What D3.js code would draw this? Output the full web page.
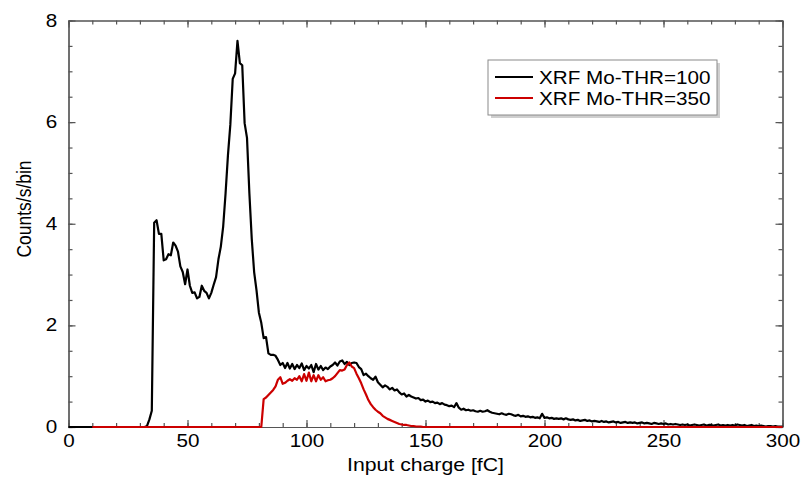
<!DOCTYPE html>
<html>
<head>
<meta charset="utf-8">
<script src="https://cdn.jsdelivr.net/npm/d3@7"></script>
<style>
body { margin: 0; background: #fff; }
text { font-family: "Liberation Sans", Arial, Helvetica, sans-serif; }
</style>
</head>
<body>
<div id="chart-area"></div>
<script>
// counts per 1 fC bin, bin index = input charge
let seriesNames = ["XRF Mo-THR=100", "XRF Mo-THR=350"];
let seriesColors = ["#000000", "#cc0000"];

let thr100 = [
    0,0,0,0,0,0,0,0,0,0,
    0,0,0,0,0,0,0,0,0,0,
    0,0,0,0,0,0,0,0,0,0,
    0,0,0,0.02,0.15,0.32,4.02,4.07,3.80,3.80,
    3.28,3.30,3.40,3.38,3.63,3.57,3.45,3.16,3.05,2.81,
    3.10,2.78,2.64,2.65,2.53,2.56,2.78,2.68,2.64,2.53,
    2.64,2.80,2.95,3.30,3.55,3.95,4.60,5.35,5.95,6.85,
    6.96,7.60,7.16,7.12,5.98,5.69,4.60,3.70,3.05,2.69,
    2.25,2.05,1.75,1.77,1.45,1.42,1.42,1.40,1.32,1.22,
    1.26,1.16,1.26,1.15,1.24,1.14,1.22,1.16,1.25,1.12,
    1.20,1.15,1.22,1.08,1.24,1.13,1.20,1.12,1.17,1.14,
    1.19,1.22,1.27,1.21,1.29,1.31,1.24,1.28,1.22,1.26,
    1.27,1.26,1.18,1.14,1.02,1.05,1.00,0.96,0.93,0.99,
    0.88,0.83,0.78,0.82,0.79,0.74,0.77,0.72,0.74,0.68,
    0.64,0.66,0.60,0.63,0.60,0.58,0.56,0.57,0.53,0.54,
    0.50,0.52,0.49,0.50,0.47,0.48,0.45,0.47,0.44,0.43,
    0.41,0.42,0.39,0.47,0.38,0.34,0.36,0.33,0.34,0.32,
    0.33,0.31,0.30,0.32,0.30,0.31,0.33,0.30,0.28,0.27,
    0.26,0.25,0.27,0.25,0.24,0.26,0.25,0.23,0.22,0.24,
    0.21,0.22,0.20,0.21,0.19,0.20,0.18,0.19,0.17,0.26,
    0.18,0.19,0.17,0.18,0.16,0.17,0.16,0.17,0.15,0.17,
    0.15,0.14,0.15,0.13,0.14,0.12,0.13,0.14,0.12,0.13,
    0.11,0.12,0.11,0.10,0.12,0.10,0.11,0.09,0.10,0.11,
    0.09,0.10,0.08,0.09,0.10,0.08,0.09,0.08,0.09,0.07,
    0.08,0.09,0.07,0.08,0.07,0.06,0.08,0.07,0.06,0.07,
    0.06,0.07,0.05,0.06,0.05,0.06,0.05,0.04,0.05,0.04,
    0.05,0.03,0.04,0.05,0.04,0.03,0.04,0.05,0.03,0.04,
    0.04,0.03,0.04,0.05,0.03,0.04,0.03,0.04,0.03,0.04,
    0.03,0.05,0.04,0.03,0.04,0.02,0.03,0.04,0.02,0.03,
    0.02,0.03,0.02,0.01,0.02,0.02,0.01,0.02,0.01,0.01,
    0.01
];

let thr350 = [
    null,null,null,null,null,null,null,null,null,null,
    0,0,0,0,0,0,0,0,0,0,
    0,0,0,0,0,0,0,0,0,0,
    0,0,0,0,0,0,0,0,0,0,
    0,0,0,0,0,0,0,0,0,0,
    0,0,0,0,0,0,0,0,0,0,
    0,0,0,0,0,0,0,0,0,0,
    0,0,0,0,0,0,0,0,0,0,
    0,0,0.55,0.58,0.63,0.68,0.73,0.80,0.93,0.98,
    0.85,0.87,0.91,0.94,0.91,0.96,0.93,1.00,0.90,1.04,
    0.91,1.07,0.90,1.02,0.90,1.02,0.93,0.98,0.90,0.92,
    0.93,0.96,1.00,1.06,1.12,1.11,1.13,1.22,1.27,1.19,
    1.16,1.05,0.96,0.86,0.74,0.64,0.53,0.45,0.39,0.34,
    0.30,0.27,0.22,0.19,0.16,0.14,0.12,0.10,0.08,0.06,
    0.05,0.04,0.04,0.03,0.02,0.02,0.01,0.01,0.01,0,
    0,0,0,0,0,0,0,0,0,0,
    0,0,0,0,0,0,0,0,0,0,
    0,0,0,0,0,0,0,0,0,0,
    0,0,0,0,0,0,0,0,0,0,
    0,0,0,0,0,0,0,0,0,0,
    0,0,0,0,0,0,0,0,0,0,
    0,0,0,0,0,0,0,0,0,0,
    0,0,0,0,0,0,0,0,0,0,
    0,0,0,0,0,0,0,0,0,0,
    0,0,0,0,0,0,0,0,0,0,
    0,0,0,0,0,0,0,0,0,0,
    0,0,0,0,0,0,0,0,0,0,
    0,0,0,0,0,0,0,0,0,0,
    0,0,0,0,0,0,0,0,0,0,
    0,0,0,0,0,0,0,0,0,0,
    0
];

let xMajorTicks = [0, 50, 100, 150, 200, 250, 300];
let xMinorTicks = d3.range(0, 301, 10);
let yMajorTicks = [0, 2, 4, 6, 8];
let yMinorTicks = d3.range(0, 8.01, 0.5);

let W = 803, H = 479;
let plotL = 68.5, plotR = 782.5, plotT = 20.5, plotB = 427;
let stretch = 1.18;
let axisColor = "#555";

let svg = d3.select("#chart-area")
            .append("svg")
            .attr("width", W)
            .attr("height", H);

let x = d3.scaleLinear()
        .domain([0, 300])
        .range([plotL, plotR]);

let y = d3.scaleLinear()
        .domain([0, 8])
        .range([plotB, plotT]);

// minor ticks first, then major with labels
function drawAxis(axis, tx, ty, labels) {
    let g = svg.append("g")
               .attr("transform", "translate(" + tx + "," + ty + ")")
               .call(axis);
    g.select(".domain").attr("stroke", axisColor).attr("stroke-width", 1.2);
    g.selectAll(".tick line").attr("stroke", axisColor).attr("stroke-width", 1.2);
    g.selectAll(".tick text")
     .attr("fill", "#000")
     .style("font-size", "17.5px")
     .attr("transform", "scale(" + stretch + ",1)");
    if (!labels) g.selectAll(".tick text").remove();
    return g;
}

drawAxis(d3.axisBottom(x).tickValues(xMinorTicks).tickSize(-4).tickSizeOuter(0), 0, plotB, false);
drawAxis(d3.axisTop(x).tickValues(xMinorTicks).tickSize(-4).tickSizeOuter(0), 0, plotT, false);
drawAxis(d3.axisLeft(y).tickValues(yMinorTicks).tickSize(-4).tickSizeOuter(0), plotL, 0, false);
drawAxis(d3.axisRight(y).tickValues(yMinorTicks).tickSize(-4).tickSizeOuter(0), plotR, 0, false);

drawAxis(d3.axisBottom(x).tickValues(xMajorTicks).tickSize(-7).tickSizeOuter(0).tickPadding(8), 0, plotB, true);
drawAxis(d3.axisTop(x).tickValues(xMajorTicks).tickSize(-7).tickSizeOuter(0), 0, plotT, false);
drawAxis(d3.axisLeft(y).tickValues(yMajorTicks).tickSize(-7).tickSizeOuter(0).tickPadding(9.5), plotL, 0, true);
drawAxis(d3.axisRight(y).tickValues(yMajorTicks).tickSize(-7).tickSizeOuter(0), plotR, 0, false);

let line = d3.line()
        .defined(function(d){ return d != null; })
        .x(function(d, i){ return x(i); })
        .y(function(d){ return y(d); });

[thr100, thr350].forEach(function(values, k){
    svg.append("path")
       .datum(values)
       .attr("fill", "none")
       .attr("stroke", seriesColors[k])
       .attr("stroke-width", 2.2)
       .attr("stroke-linejoin", "round")
       .attr("d", line);
});

// axis titles
svg.append("text")
   .attr("transform", "translate(" + ((plotL + plotR) / 2) + ",471) scale(" + stretch + ",1)")
   .attr("text-anchor", "middle")
   .style("font-size", "18px")
   .text("Input charge [fC]");

svg.append("text")
   .attr("transform", "translate(31,209) scale(" + stretch + ",1) rotate(-90)")
   .attr("text-anchor", "middle")
   .style("font-size", "17.5px")
   .text("Counts/s/bin");

// legend
let lg = svg.append("g").attr("transform", "translate(488,60)");
lg.append("rect")
  .attr("x", 3).attr("y", 3)
  .attr("width", 229).attr("height", 55)
  .attr("fill", "#cfcfcf");
lg.append("rect")
  .attr("width", 229).attr("height", 55)
  .attr("fill", "#fff")
  .attr("stroke", "#8a8a8a")
  .attr("stroke-width", 1);

seriesNames.forEach(function(name, k){
    let yy = 17 + k * 21;
    lg.append("line")
      .attr("x1", 7).attr("x2", 45)
      .attr("y1", yy).attr("y2", yy)
      .attr("stroke", seriesColors[k])
      .attr("stroke-width", 2);
    lg.append("text")
      .attr("transform", "translate(51," + (yy + 6.5) + ") scale(" + stretch + ",1)")
      .style("font-size", "17.5px")
      .text(name);
});
</script>
</body>
</html>
